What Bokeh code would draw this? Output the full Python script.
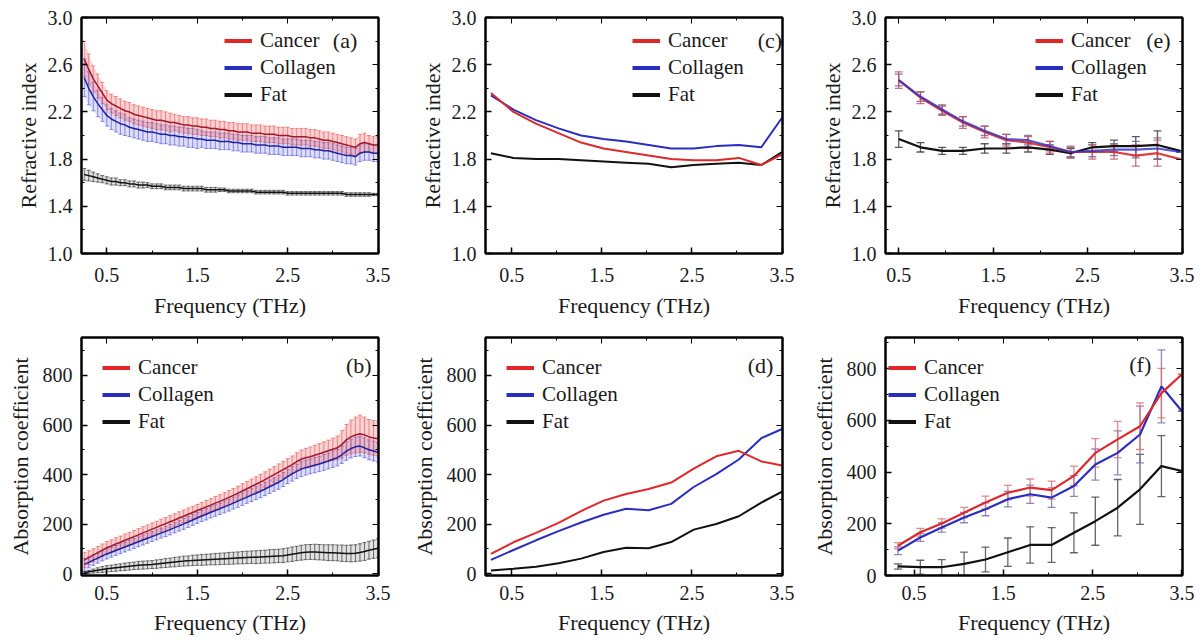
from bokeh.plotting import figure
from bokeh.layouts import gridplot
from bokeh.models import (ColumnDataSource, Whisker, TeeHead, Legend, LegendItem, Label,
                          LinearAxis, FixedTicker, Range1d, PrintfTickFormatter,
                          CustomJSTickFormatter)
from bokeh.embed import file_html
from bokeh.resources import INLINE

# ---------------- data ----------------
series_names = ["Cancer", "Collagen", "Fat"]
x_label = "Frequency (THz)"
y_label_n = "Refractive index"
y_label_a = "Absorption coefficient"
panel_tags = ["(a)", "(b)", "(c)", "(d)", "(e)", "(f)"]
x_ticks = [0.5, 1.5, 2.5, 3.5]
x_minor = [1.0, 2.0, 3.0]
n_ticks = [1.0, 1.4, 1.8, 2.2, 2.6, 3.0]
n_minor = [1.2, 1.6, 2.0, 2.4, 2.8]
a_ticks = [0, 200, 400, 600, 800]
a_minor = [100, 300, 500, 700, 900]

# panels (a) and (b): dense spectra with error bars
freq_ab = [0.25, 0.30, 0.35, 0.40, 0.45, 0.50, 0.55, 0.60, 0.65, 0.70,
           0.75, 0.80, 0.85, 0.90, 0.95, 1.00, 1.05, 1.10, 1.15, 1.20,
           1.25, 1.30, 1.35, 1.40, 1.45, 1.50, 1.55, 1.60, 1.65, 1.70,
           1.75, 1.80, 1.85, 1.90, 1.95, 2.00, 2.05, 2.10, 2.15, 2.20,
           2.25, 2.30, 2.35, 2.40, 2.45, 2.50, 2.55, 2.60, 2.65, 2.70,
           2.75, 2.80, 2.85, 2.90, 2.95, 3.00, 3.05, 3.10, 3.15, 3.20,
           3.25, 3.30, 3.35, 3.40, 3.45, 3.50]

cancer_n_a = [2.65, 2.56, 2.48, 2.42, 2.36, 2.30, 2.27, 2.25, 2.23, 2.21,
              2.20, 2.18, 2.17, 2.16, 2.15, 2.14, 2.13, 2.13, 2.12, 2.11,
              2.11, 2.10, 2.09, 2.09, 2.08, 2.08, 2.07, 2.07, 2.06, 2.06,
              2.05, 2.05, 2.04, 2.04, 2.03, 2.03, 2.03, 2.02, 2.02, 2.02,
              2.01, 2.01, 2.01, 2.00, 2.00, 2.00, 1.99, 1.99, 1.99, 1.99,
              1.98, 1.98, 1.97, 1.96, 1.96, 1.95, 1.94, 1.93, 1.92, 1.91,
              1.90, 1.93, 1.94, 1.93, 1.92, 1.92]
collagen_n_a = [2.49, 2.40, 2.33, 2.27, 2.22, 2.17, 2.14, 2.12, 2.10, 2.09,
                2.07, 2.06, 2.05, 2.04, 2.03, 2.03, 2.02, 2.01, 2.01, 2.00,
                2.00, 1.99, 1.99, 1.98, 1.98, 1.97, 1.97, 1.96, 1.96, 1.96,
                1.95, 1.95, 1.95, 1.94, 1.94, 1.93, 1.93, 1.93, 1.92, 1.92,
                1.92, 1.91, 1.91, 1.91, 1.90, 1.90, 1.90, 1.90, 1.89, 1.89,
                1.89, 1.88, 1.88, 1.87, 1.87, 1.86, 1.85, 1.84, 1.83, 1.83,
                1.82, 1.85, 1.86, 1.86, 1.85, 1.85]
fat_n_a = [1.67, 1.66, 1.65, 1.64, 1.63, 1.62, 1.61, 1.61, 1.60, 1.60,
           1.59, 1.59, 1.58, 1.58, 1.58, 1.57, 1.57, 1.57, 1.56, 1.56,
           1.56, 1.56, 1.55, 1.55, 1.55, 1.55, 1.55, 1.54, 1.54, 1.54,
           1.54, 1.54, 1.53, 1.53, 1.53, 1.53, 1.53, 1.53, 1.52, 1.52,
           1.52, 1.52, 1.52, 1.52, 1.52, 1.51, 1.51, 1.51, 1.51, 1.51,
           1.51, 1.51, 1.51, 1.51, 1.51, 1.51, 1.51, 1.51, 1.50, 1.50,
           1.50, 1.50, 1.50, 1.50, 1.50, 1.50]
cancer_n_a_err = [0.15, 0.13, 0.11, 0.10, 0.09, 0.08, 0.08, 0.08, 0.08, 0.08,
                  0.08, 0.08, 0.08, 0.08, 0.08, 0.08, 0.08, 0.08, 0.08, 0.08,
                  0.07, 0.07, 0.07, 0.07, 0.07, 0.07, 0.07, 0.07, 0.07, 0.07,
                  0.07, 0.07, 0.07, 0.07, 0.07, 0.07, 0.07, 0.07, 0.07, 0.07,
                  0.07, 0.07, 0.07, 0.07, 0.07, 0.07, 0.07, 0.07, 0.07, 0.07,
                  0.07, 0.07, 0.07, 0.07, 0.07, 0.07, 0.07, 0.07, 0.07, 0.07,
                  0.07, 0.08, 0.08, 0.07, 0.07, 0.07]
collagen_n_a_err = [0.16, 0.14, 0.12, 0.11, 0.10, 0.09, 0.09, 0.09, 0.09, 0.09,
                    0.08, 0.08, 0.08, 0.08, 0.08, 0.08, 0.08, 0.08, 0.08, 0.08,
                    0.08, 0.08, 0.08, 0.08, 0.08, 0.08, 0.07, 0.07, 0.07, 0.07,
                    0.07, 0.07, 0.07, 0.07, 0.07, 0.07, 0.07, 0.07, 0.07, 0.07,
                    0.07, 0.07, 0.07, 0.07, 0.07, 0.07, 0.07, 0.07, 0.07, 0.07,
                    0.07, 0.07, 0.07, 0.07, 0.07, 0.07, 0.07, 0.07, 0.07, 0.07,
                    0.07, 0.07, 0.07, 0.07, 0.07, 0.07]
fat_n_a_err = [0.05, 0.045, 0.04, 0.035, 0.03, 0.03, 0.03, 0.03, 0.025, 0.025,
               0.025, 0.025, 0.025, 0.025, 0.02, 0.02, 0.02, 0.02, 0.02, 0.02,
               0.02, 0.02, 0.02, 0.02, 0.02, 0.02, 0.02, 0.02, 0.02, 0.02,
               0.015, 0.015, 0.015, 0.015, 0.015, 0.015, 0.015, 0.015, 0.015, 0.015,
               0.015, 0.015, 0.015, 0.015, 0.015, 0.015, 0.015, 0.015, 0.015, 0.015,
               0.015, 0.015, 0.015, 0.015, 0.015, 0.015, 0.015, 0.015, 0.015, 0.015,
               0.015, 0.015, 0.015, 0.015, 0.01, 0.01]

cancer_a_b = [55, 65, 75, 85, 95, 105, 112, 120, 127, 135,
              142, 150, 157, 165, 172, 180, 187, 195, 202, 210,
              217, 225, 232, 240, 247, 255, 262, 270, 277, 285,
              292, 300, 308, 316, 325, 334, 343, 352, 361, 370,
              380, 390, 400, 410, 420, 430, 440, 452, 462, 468,
              472, 478, 484, 490, 496, 502, 508, 522, 540, 552,
              560, 565, 560, 552, 548, 545]
collagen_a_b = [38, 46, 55, 63, 72, 80, 87, 94, 101, 108,
                115, 122, 129, 136, 143, 150, 157, 164, 171, 178,
                186, 193, 201, 209, 217, 225, 233, 240, 248, 255,
                262, 270, 277, 285, 293, 301, 309, 317, 325, 333,
                342, 351, 360, 369, 380, 392, 403, 413, 422, 428,
                433, 438, 443, 449, 455, 462, 468, 480, 495, 505,
                512, 515, 508, 500, 495, 490]
fat_a_b = [5, 8, 11, 14, 17, 20, 22, 24, 26, 28,
           30, 32, 34, 35, 36, 37, 39, 41, 43, 45,
           47, 49, 51, 52, 54, 55, 56, 57, 58, 59,
           60, 61, 62, 63, 64, 65, 66, 67, 67, 68,
           69, 70, 71, 72, 73, 76, 79, 82, 85, 87,
           88, 88, 87, 86, 85, 85, 84, 83, 82, 82,
           83, 86, 90, 95, 99, 103]
cancer_a_b_err = [30, 28, 26, 25, 25, 25, 25, 25, 25, 25,
                  25, 25, 25, 25, 25, 25, 25, 25, 25, 25,
                  25, 25, 25, 25, 25, 25, 26, 26, 26, 27,
                  27, 27, 28, 28, 28, 29, 29, 30, 30, 31,
                  31, 32, 32, 33, 33, 34, 35, 36, 37, 38,
                  39, 40, 41, 42, 43, 45, 47, 55, 62, 68,
                  72, 75, 72, 70, 70, 70]
collagen_a_b_err = [24, 22, 21, 20, 20, 20, 20, 20, 20, 20,
                    20, 20, 20, 20, 20, 20, 20, 20, 21, 21,
                    21, 21, 22, 22, 22, 22, 22, 23, 23, 23,
                    23, 24, 24, 24, 25, 25, 25, 26, 26, 26,
                    27, 27, 27, 28, 28, 28, 29, 29, 30, 30,
                    30, 31, 31, 32, 32, 33, 33, 35, 37, 38,
                    39, 40, 40, 40, 40, 40]
fat_a_b_err = [4, 6, 8, 10, 12, 13, 13, 14, 14, 15,
               15, 15, 16, 16, 16, 16, 17, 17, 18, 18,
               19, 19, 20, 20, 21, 21, 22, 22, 22, 23,
               23, 23, 24, 24, 24, 25, 25, 25, 26, 26,
               26, 27, 27, 27, 28, 28, 29, 29, 30, 30,
               30, 31, 31, 31, 32, 32, 32, 33, 33, 34,
               34, 35, 36, 36, 37, 38]

# panels (c) and (d)
freq_cd = [0.27, 0.52, 0.77, 1.02, 1.27, 1.52, 1.77, 2.02, 2.27, 2.52, 2.77, 3.02, 3.27, 3.50]
cancer_n_c = [2.36, 2.20, 2.10, 2.02, 1.94, 1.89, 1.86, 1.83, 1.80, 1.79, 1.79, 1.81, 1.75, 1.84]
collagen_n_c = [2.34, 2.22, 2.13, 2.06, 2.00, 1.97, 1.95, 1.92, 1.89, 1.89, 1.91, 1.92, 1.90, 2.15]
fat_n_c = [1.85, 1.81, 1.80, 1.80, 1.79, 1.78, 1.77, 1.76, 1.73, 1.75, 1.76, 1.77, 1.75, 1.86]
cancer_a_d = [80, 127, 165, 205, 253, 295, 322, 342, 368, 424, 474, 496, 453, 437]
collagen_a_d = [56, 96, 135, 172, 207, 238, 262, 256, 282, 350, 402, 461, 547, 584]
fat_a_d = [13, 20, 28, 42, 61, 88, 105, 103, 128, 178, 201, 232, 287, 331]

# panel (e)
freq_e = [0.50, 0.73, 0.96, 1.18, 1.41, 1.64, 1.87, 2.10, 2.32, 2.55, 2.78, 3.01, 3.24, 3.48]
cancer_n_e = [2.47, 2.32, 2.21, 2.11, 2.03, 1.96, 1.94, 1.90, 1.86, 1.86, 1.86, 1.83, 1.85, 1.80]
collagen_n_e = [2.47, 2.33, 2.22, 2.12, 2.04, 1.97, 1.96, 1.91, 1.86, 1.87, 1.88, 1.88, 1.89, 1.86]
fat_n_e = [1.97, 1.90, 1.87, 1.87, 1.89, 1.89, 1.90, 1.88, 1.85, 1.90, 1.91, 1.91, 1.92, 1.87]
cancer_n_e_err = [0.07, 0.05, 0.04, 0.05, 0.05, 0.05, 0.05, 0.05, 0.05, 0.06, 0.06, 0.09, 0.11, 0.0]
collagen_n_e_err = [0.05, 0.04, 0.04, 0.04, 0.04, 0.04, 0.04, 0.04, 0.04, 0.05, 0.05, 0.07, 0.09, 0.0]
fat_n_e_err = [0.07, 0.04, 0.03, 0.03, 0.04, 0.04, 0.04, 0.04, 0.04, 0.04, 0.05, 0.08, 0.12, 0.0]

# panel (f)
freq_f = [0.32, 0.57, 0.81, 1.06, 1.30, 1.55, 1.80, 2.04, 2.29, 2.53, 2.78, 3.03, 3.27, 3.50]
cancer_a_f = [115, 167, 201, 243, 282, 320, 340, 330, 385, 474, 526, 577, 705, 778]
collagen_a_f = [96, 147, 186, 224, 256, 295, 314, 301, 346, 429, 474, 545, 731, 635]
fat_a_f = [35, 32, 32, 45, 62, 90, 118, 118, 165, 210, 262, 333, 423, 404]
cancer_a_f_err = [12, 15, 18, 20, 25, 28, 33, 35, 38, 55, 70, 90, 96, 0]
collagen_a_f_err = [15, 15, 18, 20, 25, 30, 35, 38, 40, 60, 85, 110, 141, 0]
fat_a_f_err = [10, 27, 29, 45, 48, 55, 70, 67, 77, 93, 109, 135, 118, 0]

# ---------------- style ----------------
FONT = "serif"
RED = "#e0282a"
BLUE = "#2a2ec0"
BLACK = "#111111"
COLORS = [RED, BLUE, BLACK]
NAN = float("nan")


def make_panel(xr, yr, w, h, bl, br, bt, bb, ylabel, yticks, yminor, yfmt, xs, xls, yls):
    p = figure(width=w, height=h, x_range=Range1d(*xr), y_range=Range1d(*yr),
               output_backend="svg", toolbar_location=None,
               min_border_left=bl, min_border_right=br, min_border_top=bt, min_border_bottom=bb)
    p.xgrid.visible = False
    p.ygrid.visible = False
    p.outline_line_color = "black"
    p.outline_line_width = 2
    p.border_fill_color = "white"
    xt = FixedTicker(ticks=x_ticks, minor_ticks=x_minor)
    yt = FixedTicker(ticks=yticks, minor_ticks=yminor)
    p.xaxis.ticker = xt
    p.yaxis.ticker = yt
    p.xaxis.formatter = PrintfTickFormatter(format="%.1f")
    p.yaxis.formatter = PrintfTickFormatter(format=yfmt)
    for ax in (p.xaxis[0], p.yaxis[0]):
        ax.axis_line_width = 2
        ax.major_tick_in = 6
        ax.major_tick_out = 0
        ax.minor_tick_in = 3
        ax.minor_tick_out = 0
        ax.major_tick_line_width = 1.5
        ax.major_label_text_font = FONT
        ax.major_label_text_font_size = "20px"
        ax.major_label_text_color = "#1a1a1a"
        ax.axis_label_text_font = FONT
        ax.axis_label_text_font_size = "22px"
        ax.axis_label_text_font_style = "normal"
        ax.axis_label_text_color = "#1a1a1a"
    p.xaxis.axis_label = x_label
    p.yaxis.axis_label = ylabel
    p.xaxis.major_label_standoff = xs
    p.xaxis.axis_label_standoff = xls
    p.yaxis.major_label_standoff = 9
    p.yaxis.axis_label_standoff = yls
    blank = CustomJSTickFormatter(code="return ''")
    top = LinearAxis(ticker=xt, formatter=blank, major_label_standoff=0,
                     major_tick_in=6, major_tick_out=0, minor_tick_in=3, minor_tick_out=0,
                     axis_line_width=2)
    right = LinearAxis(ticker=yt, formatter=blank, major_label_standoff=0,
                       major_tick_in=6, major_tick_out=0, minor_tick_in=3, minor_tick_out=0,
                       axis_line_width=2)
    p.add_layout(top, "above")
    p.add_layout(right, "right")
    return p


def add_errors(p, x, m, e, color, alpha, head, width=1.0, band=0.0):
    lo = [a - b for a, b in zip(m, e)]
    up = [a + b for a, b in zip(m, e)]
    src = ColumnDataSource(dict(x=x, lo=lo, up=up))
    if band > 0:
        p.varea(x="x", y1="lo", y2="up", source=src, fill_color=color, fill_alpha=band)
    wk = Whisker(source=src, base="x", lower="lo", upper="up", line_color=color,
                 line_alpha=alpha, line_width=width,
                 upper_head=TeeHead(size=head, line_color=color, line_alpha=alpha, line_width=width),
                 lower_head=TeeHead(size=head, line_color=color, line_alpha=alpha, line_width=width))
    p.add_layout(wk)


def add_legend(p, loc):
    rs = [p.line(x=[NAN, NAN], y=[NAN, NAN], line_color=c, line_width=4) for c in COLORS]
    leg = Legend(items=[LegendItem(label=n, renderers=[r]) for n, r in zip(series_names, rs)],
                 location=loc, background_fill_alpha=0, border_line_alpha=0,
                 padding=0, margin=0, spacing=0, glyph_width=28, glyph_height=27,
                 label_height=27, label_standoff=8,
                 label_text_font=FONT, label_text_font_size="21px", label_text_color="#1a1a1a")
    p.add_layout(leg)


def add_tag(p, x, y, t):
    p.add_layout(Label(x=x, y=y, text=t, text_font=FONT, text_font_size="22px",
                       text_baseline="middle", text_align="left", text_color="#1a1a1a"))


# ---------------- panels ----------------
YR_N = (1.0, 3.0)
YR_A = (-7, 953)
YR_AF = (0, 920)
XR_1 = (0.22, 3.505)
XR_2 = (0.21, 3.505)
XR_3 = (0.36, 3.505)
XR_F = (0.18, 3.506)

# (a)
pa = make_panel(XR_1, YR_N, 408, 328, 81, 30, 17, 75, y_label_n, n_ticks, n_minor, "%.1f", 14, 8, 4)
add_errors(pa, freq_ab, collagen_n_a, collagen_n_a_err, "#4a4ad8", 0.6, 4, band=0.18)
add_errors(pa, freq_ab, cancer_n_a, cancer_n_a_err, "#e85a5a", 0.65, 4, band=0.28)
add_errors(pa, freq_ab, fat_n_a, fat_n_a_err, "#333333", 0.7, 4, band=0.15)
pa.line(freq_ab, collagen_n_a, line_color="#2020a0", line_width=1.5)
pa.line(freq_ab, cancer_n_a, line_color="#a01830", line_width=1.5)
pa.line(freq_ab, fat_n_a, line_color=BLACK, line_width=1.5)
add_legend(pa, (143, 145))
add_tag(pa, 3.00, 2.805, panel_tags[0])

# (b)
pb = make_panel(XR_1, YR_A, 408, 312, 81, 30, 9, 65, y_label_a, a_ticks, a_minor, "%d", 10, 7, 7)
add_errors(pb, freq_ab, collagen_a_b, collagen_a_b_err, "#4a4ad8", 0.6, 4, band=0.18)
add_errors(pb, freq_ab, cancer_a_b, cancer_a_b_err, "#e85a5a", 0.65, 4, band=0.28)
add_errors(pb, freq_ab, fat_a_b, fat_a_b_err, "#333333", 0.7, 4, band=0.15)
pb.line(freq_ab, collagen_a_b, line_color="#2020a0", line_width=1.5)
pb.line(freq_ab, cancer_a_b, line_color="#a01830", line_width=1.5)
pb.line(freq_ab, fat_a_b, line_color=BLACK, line_width=1.5)
add_legend(pb, (21, 140))
add_tag(pb, 3.146, 841, panel_tags[1])

# (c)
pc = make_panel(XR_2, YR_N, 400, 328, 73, 26, 17, 75, y_label_n, n_ticks, n_minor, "%.1f", 14, 8, 4)
pc.line(freq_cd, fat_n_c, line_color=BLACK, line_width=2)
pc.line(freq_cd, collagen_n_c, line_color=BLUE, line_width=2)
pc.line(freq_cd, cancer_n_c, line_color=RED, line_width=2)
add_legend(pc, (147, 145))
add_tag(pc, 3.23, 2.805, panel_tags[2])

# (d)
pd_ = make_panel(XR_2, YR_A, 400, 312, 73, 26, 9, 65, y_label_a, a_ticks, a_minor, "%d", 10, 7, 7)
pd_.line(freq_cd, fat_a_d, line_color=BLACK, line_width=2)
pd_.line(freq_cd, collagen_a_d, line_color=BLUE, line_width=2)
pd_.line(freq_cd, cancer_a_d, line_color=RED, line_width=2)
add_legend(pd_, (21, 140))
add_tag(pd_, 3.12, 841, panel_tags[3])

# (e)
pe = make_panel(XR_3, YR_N, 392, 328, 74, 18, 17, 75, y_label_n, n_ticks, n_minor, "%.1f", 14, 8, 4)
add_errors(pe, freq_e, fat_n_e, fat_n_e_err, "#333333", 0.8, 8, 1.3)
add_errors(pe, freq_e, collagen_n_e, collagen_n_e_err, "#6a5a9a", 0.8, 8, 1.3)
add_errors(pe, freq_e, cancer_n_e, cancer_n_e_err, "#c05060", 0.8, 8, 1.3)
pe.line(freq_e, fat_n_e, line_color=BLACK, line_width=2.2)
pe.line(freq_e, cancer_n_e, line_color=RED, line_width=2.2, line_alpha=0.9)
pe.line(freq_e, collagen_n_e, line_color=BLUE, line_width=2.2, line_alpha=0.8)
add_legend(pe, (150, 145))
add_tag(pe, 3.12, 2.805, panel_tags[4])

# (f)
pf = make_panel(XR_F, YR_AF, 392, 312, 74, 18, 9, 65, y_label_a, a_ticks, a_minor, "%d", 10, 7, 7)
add_errors(pf, freq_f, fat_a_f, fat_a_f_err, "#444444", 0.8, 8, 1.3)
add_errors(pf, freq_f, collagen_a_f, collagen_a_f_err, "#7a6aa8", 0.8, 8, 1.3)
add_errors(pf, freq_f, cancer_a_f, cancer_a_f_err, "#d87070", 0.8, 8, 1.3)
pf.line(freq_f, fat_a_f, line_color=BLACK, line_width=2.2)
pf.line(freq_f, collagen_a_f, line_color=BLUE, line_width=2.2)
pf.line(freq_f, cancer_a_f, line_color=RED, line_width=2.2)
add_legend(pf, (3, 140))
add_tag(pf, 2.91, 814, panel_tags[5])

grid = gridplot([[pa, pc, pe], [pb, pd_, pf]], toolbar_location=None)

open("out.html", "w").write(file_html(grid, INLINE))
